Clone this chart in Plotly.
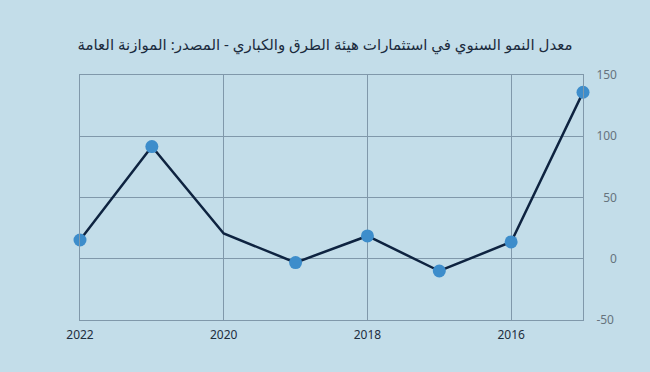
import plotly.graph_objects as go

years = [2022, 2021, 2020, 2019, 2018, 2017, 2016, 2015]
growth = [15.3, 91.6, 20.6, -3.1, 18.6, -10.0, 13.7, 135.9]
x_tickvals = [2022, 2020, 2018, 2016]
y_tickvals = [-50, 0, 50, 100, 150]
y_ticktext = ["-50", "\u2007\u20070", "\u200750", "100", "150"]
title_text = "معدل النمو السنوي في استثمارات هيئة الطرق والكباري - المصدر: الموازنة العامة"

bg = "#c3dde9"
grid = "#8098aa"
marker_sizes = [13, 13, 0, 13, 13, 13, 13, 13]

fig = go.Figure()
fig.add_trace(go.Scatter(
    x=years, y=growth, mode="lines",
    line=dict(color="#0e2340", width=2.5),
    cliponaxis=False, showlegend=False, hoverinfo="skip",
))
fig.add_trace(go.Scatter(
    x=years, y=growth, mode="markers",
    marker=dict(color="#3d8dcb", size=marker_sizes, opacity=1, line=dict(width=0)),
    cliponaxis=False, showlegend=False,
))

fig.update_layout(
    width=650, height=372,
    paper_bgcolor=bg, plot_bgcolor=bg,
    margin=dict(l=80, r=67, t=75, b=52),
    title=dict(text=title_text, x=0.5, xanchor="center", y=0.88, yanchor="middle",
               font=dict(family="Noto Sans, DejaVu Sans", size=15, color="#1b2b3d")),
    font=dict(family="Noto Sans, DejaVu Sans"),
)
fig.update_xaxes(
    range=[2022, 2015], tickvals=x_tickvals, showgrid=True, gridcolor=grid, gridwidth=1,
    showline=True, mirror=True, linecolor=grid, linewidth=1, zeroline=False,
    tickfont=dict(size=12, color="#1e2e3e"), ticks="", ticklabelstandoff=4,
)
fig.update_yaxes(
    range=[-50, 150], side="right", tickvals=y_tickvals, ticktext=y_ticktext,
    showgrid=True, gridcolor=grid, gridwidth=1,
    showline=True, mirror=True, linecolor=grid, linewidth=1, zeroline=False,
    tickfont=dict(size=12, color="#66737d"), ticks="", ticklabelstandoff=10,
)
fig.write_html("out.html", config={"displayModeBar": False},
               post_script="document.body.style.margin='0';document.body.style.padding='0';")
